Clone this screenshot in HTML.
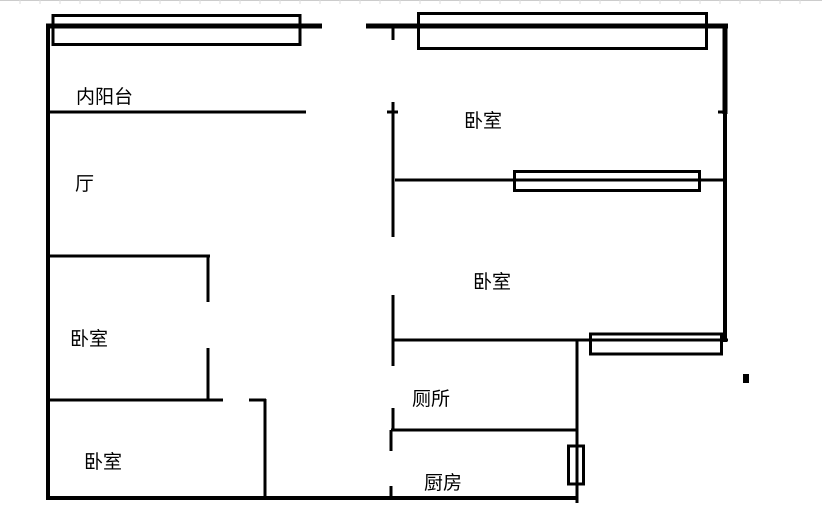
<!DOCTYPE html>
<html><head><meta charset="utf-8"><style>
html,body{margin:0;padding:0;background:#fff;width:822px;height:517px;overflow:hidden}
text{font-family:"Liberation Sans","Noto Sans CJK SC",sans-serif;font-size:19px;fill:#000}
</style></head><body>
<svg width="822" height="517" viewBox="0 0 822 517" xmlns="http://www.w3.org/2000/svg">
<line x1="0" y1="0.5" x2="822" y2="0.5" stroke="#ccc" stroke-width="1"/>
<g stroke="#ddd" stroke-width="1">
<path d="M20 0v4M40 0v4M60 0v4M80 0v4M100 0v4M120 0v4M140 0v4M160 0v4M180 0v4M200 0v4M220 0v4M240 0v4M260 0v4M280 0v4M300 0v4M320 0v4M340 0v4M360 0v4M380 0v4M400 0v4M420 0v4M440 0v4M460 0v4M480 0v4M500 0v4M520 0v4M540 0v4M560 0v4M580 0v4M600 0v4M620 0v4M640 0v4M660 0v4M680 0v4M700 0v4M720 0v4M740 0v4M760 0v4M780 0v4M800 0v4"/>
</g>
<g stroke="#000" fill="none" stroke-linecap="butt">
<line x1="46" y1="26" x2="322" y2="26" stroke-width="5"/>
<line x1="366" y1="26" x2="728" y2="26" stroke-width="5"/>
<rect x="53" y="15.5" width="247" height="29" stroke-width="3"/>
<rect x="418.5" y="13.5" width="288" height="35" stroke-width="3"/>
<line x1="48" y1="24" x2="48" y2="499" stroke-width="4"/>
<line x1="48" y1="112" x2="306" y2="112" stroke-width="3"/>
<line x1="393" y1="28" x2="393" y2="40" stroke-width="3"/>
<line x1="393" y1="102" x2="393" y2="237" stroke-width="3"/>
<line x1="387" y1="112" x2="398" y2="112" stroke-width="3"/>
<line x1="725" y1="24" x2="725" y2="114" stroke-width="5"/>
<line x1="718" y1="112" x2="727" y2="112" stroke-width="3"/>
<line x1="725" y1="112" x2="725" y2="342" stroke-width="4"/>
<line x1="395" y1="180" x2="725" y2="180" stroke-width="3"/>
<rect x="514.5" y="171.5" width="185" height="19" stroke-width="3"/>
<line x1="393" y1="295" x2="393" y2="366" stroke-width="3"/>
<line x1="393" y1="340" x2="728" y2="340" stroke-width="3"/>
<rect x="590.5" y="334" width="131" height="20" stroke-width="3"/>
<line x1="577" y1="340" x2="577" y2="503" stroke-width="3"/>
<line x1="391" y1="430" x2="577" y2="430" stroke-width="3"/>
<line x1="393" y1="408" x2="393" y2="430" stroke-width="3"/>
<line x1="391" y1="430" x2="391" y2="451" stroke-width="3"/>
<line x1="391" y1="486" x2="391" y2="498" stroke-width="3"/>
<rect x="568.5" y="446" width="15" height="38" stroke-width="3"/>
<line x1="46" y1="498" x2="577" y2="498" stroke-width="4"/>
<line x1="48" y1="256" x2="210" y2="256" stroke-width="3"/>
<line x1="208" y1="255" x2="208" y2="302" stroke-width="3"/>
<line x1="208" y1="348" x2="208" y2="400" stroke-width="3"/>
<line x1="48" y1="400" x2="223" y2="400" stroke-width="3"/>
<line x1="249" y1="400" x2="266" y2="400" stroke-width="3"/>
<line x1="265" y1="399" x2="265" y2="498" stroke-width="3"/>
</g>
<rect x="743" y="374" width="6" height="9" fill="#000"/>
<text x="76" y="103">内阳台</text>
<text x="75" y="190">厅</text>
<text x="464" y="127">卧室</text>
<text x="473" y="288">卧室</text>
<text x="70" y="345">卧室</text>
<text x="84" y="468">卧室</text>
<text x="412" y="405">厕所</text>
<text x="424" y="489">厨房</text>
</svg>
</body></html>
